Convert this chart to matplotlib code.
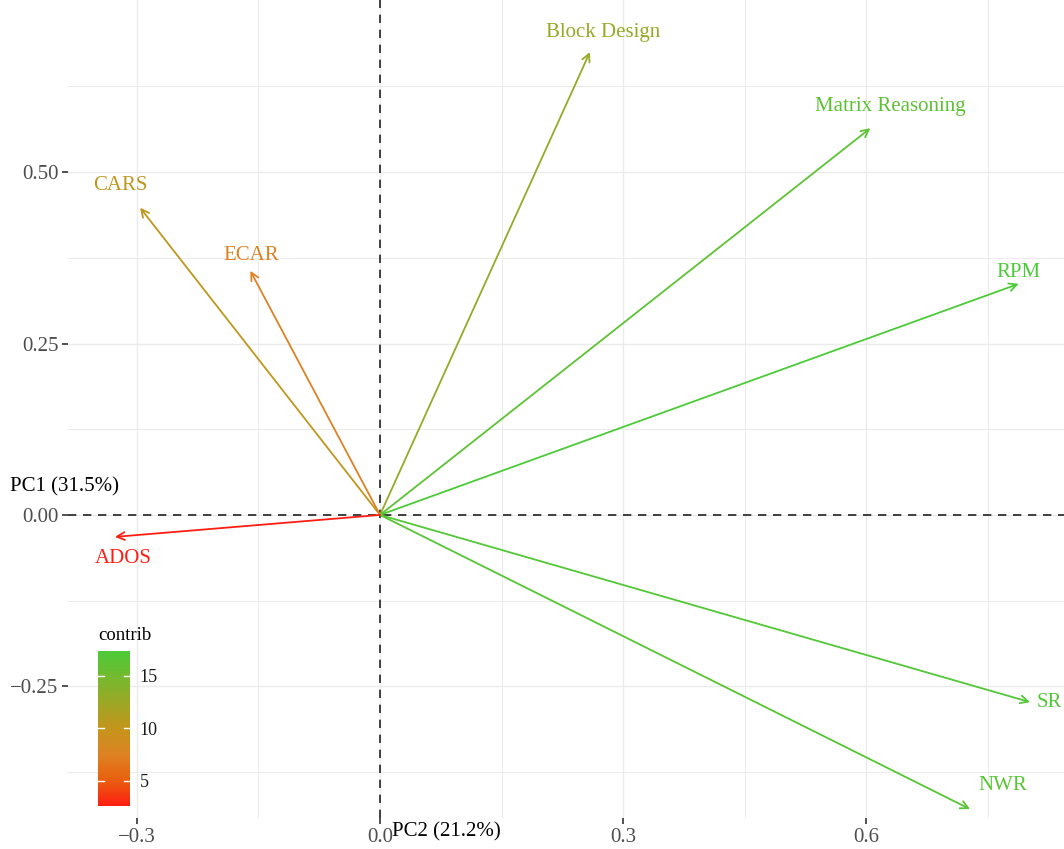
import numpy as np
import matplotlib.pyplot as plt
from matplotlib.colors import LinearSegmentedColormap, Normalize
from matplotlib.cm import ScalarMappable

plt.rcParams['font.family'] = ['Liberation Serif', 'DejaVu Serif']

# variable loadings: x = PC2, y = PC1
variables = ["Block Design", "Matrix Reasoning", "RPM", "SR", "NWR", "CARS", "ECAR", "ADOS"]
pc2 = [0.259, 0.605, 0.788, 0.802, 0.728, -0.296, -0.160, -0.327]
pc1 = [0.675, 0.564, 0.337, -0.273, -0.429, 0.448, 0.356, -0.032]
contrib = [12.7, 16.3, 17.3, 17.0, 16.6, 10.3, 7.4, 2.6]

# label anchor points
label_x = [0.275, 0.630, 0.788, 0.826, 0.768, -0.321, -0.159, -0.317]
label_y = [0.703, 0.595, 0.353, -0.274, -0.394, 0.481, 0.378, -0.063]

x_ticks = [-0.3, 0.0, 0.3, 0.6]
x_ticklabels = ["\u22120.3", "0.0", "0.3", "0.6"]
y_ticks = [-0.25, 0.0, 0.25, 0.50]
y_ticklabels = ["\u22120.25", "0.00", "0.25", "0.50"]

cmap = LinearSegmentedColormap.from_list(
    "contrib", [(0.0, "#FF1E12"), (0.17, "#E8600E"), (0.33, "#DE8224"),
                (0.5, "#C4951C"), (1.0, "#4CCB38")])
norm = Normalize(vmin=2.6, vmax=17.35)

fig = plt.figure(figsize=(10.64, 8.49), dpi=100)
ax = fig.add_axes([68 / 1064, 31 / 849, 1 - 68 / 1064, 1 - 31 / 849])
ax.set_xlim(-0.385, 0.844)
ax.set_ylim(-0.442, 0.751)

for s in ax.spines.values():
    s.set_visible(False)

# grid
for v in [-0.3, -0.15, 0.0, 0.15, 0.3, 0.45, 0.6, 0.75]:
    ax.axvline(v, color="#EBEBEB", lw=1.0 if v in x_ticks else 0.7, zorder=0)
for v in [-0.375, -0.25, -0.125, 0.0, 0.125, 0.25, 0.375, 0.5, 0.625]:
    ax.axhline(v, color="#EBEBEB", lw=1.0 if v in y_ticks else 0.7, zorder=0)

ax.axhline(0, color="#222222", lw=1.2, ls=(0, (5, 4)), zorder=1)
ax.axvline(0, color="#222222", lw=1.2, ls=(0, (5, 4)), zorder=1)

for name, x, y, c, lx, ly in zip(variables, pc2, pc1, contrib, label_x, label_y):
    col = cmap(norm(c))
    ax.annotate("", xy=(x, y), xytext=(0, 0),
                arrowprops=dict(arrowstyle="->,head_length=0.55,head_width=0.28",
                                color=col, lw=1.3, shrinkA=0, shrinkB=0), zorder=3)
    ax.text(lx, ly, name, color=col, fontsize=15, ha="center", va="center",
            clip_on=False, zorder=4)

ax.set_xticks(x_ticks)
ax.set_xticklabels(x_ticklabels)
ax.set_yticks(y_ticks)
ax.set_yticklabels(y_ticklabels)
ax.tick_params(axis="both", colors="#333333", labelcolor="#4D4D4D", labelsize=15,
               length=4, width=1.2)
ax.tick_params(axis="x", pad=3)
ax.tick_params(axis="y", pad=3)

# axis titles placed next to the origin
fig.text(10 / 1064, 1 - 487 / 849, "PC1 (31.5%)", fontsize=15, color="black",
         ha="left", va="center")
fig.text(392 / 1064, 1 - 832 / 849, "PC2 (21.2%)", fontsize=15, color="black",
         ha="left", va="center")

# colour legend
cax = fig.add_axes([98 / 1064, 1 - 806 / 849, 32 / 1064, 155 / 849])
cb = fig.colorbar(ScalarMappable(norm=norm, cmap=cmap), cax=cax, ticks=[5, 10, 15])
cb.outline.set_visible(False)
cax.tick_params(length=0, labelsize=13, labelcolor="#1A1A1A", pad=7)
for t in [5, 10, 15]:
    cax.plot([0, 0.2], [t, t], color="white", lw=1, transform=cax.get_yaxis_transform())
    cax.plot([0.8, 1.0], [t, t], color="white", lw=1, transform=cax.get_yaxis_transform())
fig.text(98 / 1064, 1 - 636 / 849, "contrib", fontsize=13.5, color="black",
         ha="left", va="center")

fig.savefig("out.png", dpi=100)
